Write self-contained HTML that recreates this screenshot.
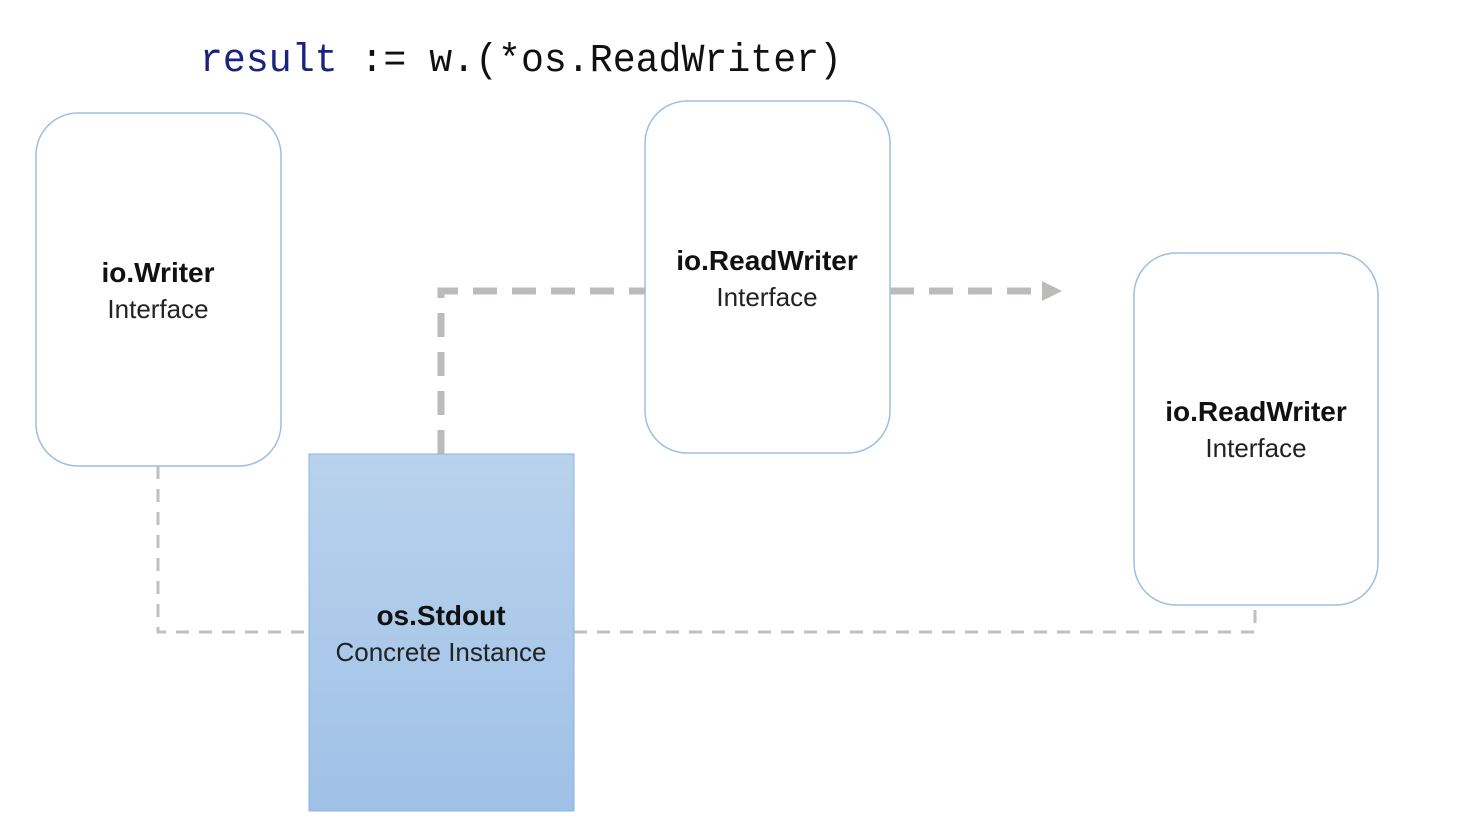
<!DOCTYPE html>
<html><head><meta charset="utf-8"><style>
html,body{margin:0;padding:0;background:#fff;width:1464px;height:840px;overflow:hidden}
svg{display:block}
.b{font-family:"Liberation Sans",sans-serif;font-weight:bold;font-size:28px;fill:#111;text-anchor:middle}
.n{font-family:"Liberation Sans",sans-serif;font-size:26px;fill:#222;text-anchor:middle}
</style></head><body>
<svg width="1464" height="840" viewBox="0 0 1464 840">
<defs><linearGradient id="g" x1="0" y1="0" x2="0" y2="1"><stop offset="0" stop-color="#b9d2ed"/><stop offset="1" stop-color="#9fc1e7"/></linearGradient></defs>
<text x="200" y="71" font-family="Liberation Mono,monospace" font-size="40" textLength="642" lengthAdjust="spacingAndGlyphs"><tspan fill="#1a237e">result</tspan><tspan fill="#111"> := w.(*os.ReadWriter)</tspan></text>
<g fill="none" stroke="#c2bfbf" stroke-width="3" stroke-dasharray="13 10">
<polyline points="158,466 158,632 309,632"/>
<polyline points="574,632 1255,632 1255,605"/>
</g>
<g fill="none" stroke="#bdbaba" stroke-width="7" stroke-dasharray="24 15">
<polyline points="441,454 441,291 645,291"/>
<polyline points="890,291 1045,291"/>
</g>
<polygon points="1042,281 1062,291 1042,301" fill="#bdbaba"/>
<rect x="36" y="113" width="245" height="353" rx="42" fill="#fff" stroke="#9dbfe0" stroke-width="1.5"/>
<rect x="645" y="101" width="245" height="352" rx="42" fill="#fff" stroke="#9dbfe0" stroke-width="1.5"/>
<rect x="1134" y="253" width="244" height="352" rx="42" fill="#fff" stroke="#9dbfe0" stroke-width="1.5"/>
<rect x="309" y="454" width="265" height="357" fill="url(#g)" stroke="#8fb3dc" stroke-width="1"/>
<text class="b" x="158" y="282">io.Writer</text><text class="n" x="158" y="318">Interface</text>
<text class="b" x="767" y="270">io.ReadWriter</text><text class="n" x="767" y="306">Interface</text>
<text class="b" x="1256" y="421">io.ReadWriter</text><text class="n" x="1256" y="457">Interface</text>
<text class="b" x="441" y="625">os.Stdout</text><text class="n" x="441" y="661">Concrete Instance</text>
</svg>
</body></html>
